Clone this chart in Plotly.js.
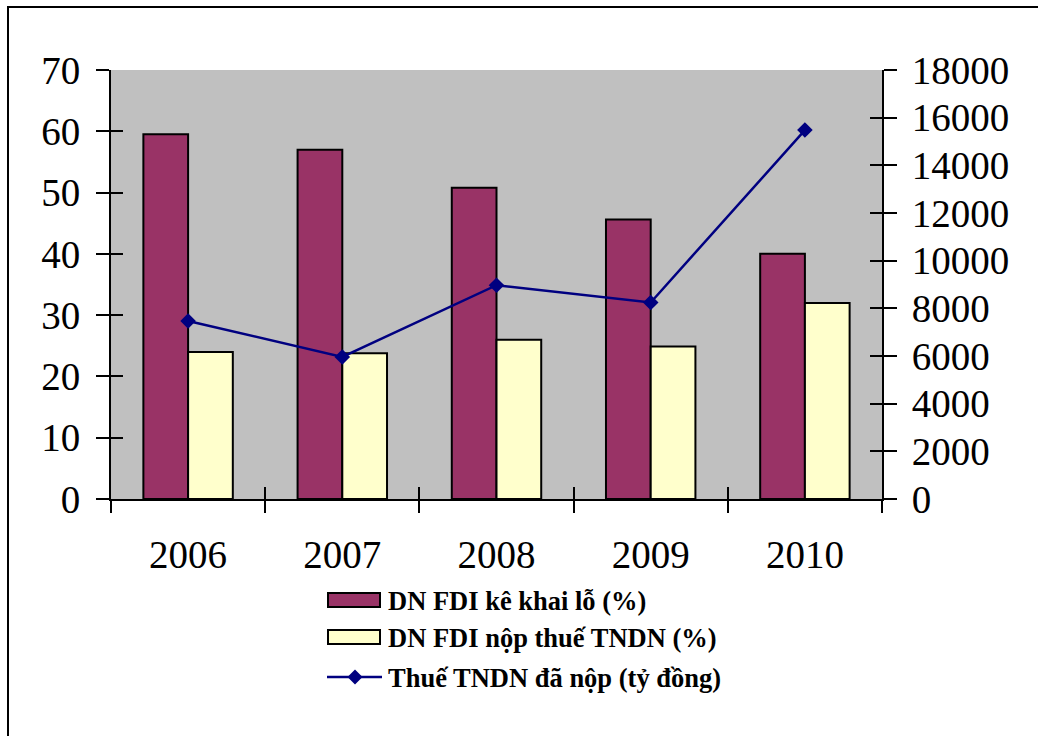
<!DOCTYPE html>
<html>
<head>
<meta charset="utf-8">
<script src="https://cdn.plot.ly/plotly-3.0.1.min.js"></script>
<style>
  html, body { margin: 0; padding: 0; background: #fff; overflow: hidden; }
  #wrap { position: relative; width: 1038px; height: 736px; }
  #chart { position: absolute; left: 0; top: 0; width: 1038px; height: 736px; }
  #chart svg text { font-family: "Liberation Serif", "Times New Roman", Times, serif !important; }
  #frame {
    position: absolute; left: 7px; top: 6px; width: 1100px; height: 800px;
    border-left: 2px solid #000; border-top: 2px solid #000; pointer-events: none;
  }
</style>
</head>
<body>
<div id="wrap">
  <div id="chart"></div>
  <div id="frame"></div>
</div>
<script>
// Years on the category axis
const years = ['2006', '2007', '2008', '2009', '2010'];

// Share of FDI enterprises declaring losses (%)
const lossShare = [59.5, 57, 50.8, 45.6, 40];

// Share of FDI enterprises paying corporate income tax (%)
const taxPayerShare = [24, 23.8, 26, 24.9, 32];

// Corporate income tax paid (billion VND)
const taxPaid = [7470, 5960, 8970, 8245, 15480];

// Series names
const seriesNames = [
  'DN FDI kê khai lỗ (%)',
  'DN FDI nộp thuế TNDN (%)',
  'Thuế TNDN đã nộp (tỷ đồng)'
];

const W = 1038, H = 736;
const M = { l: 111, r: 156, t: 70, b: 237 };
const PW = W - M.l - M.r, PH = H - M.t - M.b;
const px = x => (x - M.l) / PW;
const py = y => (H - M.b - y) / PH;

const serif = 'Liberation Serif';
const PURPLE = '#993366', CREAM = '#FFFFCC', NAVY = '#000080';

const traces = [
  {
    type: 'bar', name: seriesNames[0], x: years, y: lossShare,
    marker: { color: PURPLE, line: { color: '#000', width: 2 } },
    xaxis: 'x', yaxis: 'y', hoverinfo: 'x+y'
  },
  {
    type: 'bar', name: seriesNames[1], x: years, y: taxPayerShare,
    marker: { color: CREAM, line: { color: '#000', width: 2 } },
    xaxis: 'x', yaxis: 'y', hoverinfo: 'x+y'
  },
  {
    type: 'scatter', mode: 'lines+markers', name: seriesNames[2],
    x: years, y: taxPaid, xaxis: 'x', yaxis: 'y2',
    line: { color: NAVY, width: 2.5 },
    marker: { symbol: 'diamond', size: 12, color: NAVY }
  },
  // empty traces that carry the inward halves of the crossing tick marks
  { type: 'scatter', x: [], y: [], xaxis: 'x2', yaxis: 'y3', hoverinfo: 'skip', showlegend: false },
  { type: 'scatter', x: [], y: [], xaxis: 'x2', yaxis: 'y4', hoverinfo: 'skip', showlegend: false }
];

const tickFont = { family: serif, size: 39, color: '#000' };

// Legend drawn by hand: long swatches to the left of bold labels
const legendRows = [
  { y: 600, kind: 'bar', color: PURPLE },
  { y: 637, kind: 'bar', color: CREAM },
  { y: 677, kind: 'line', color: NAVY }
];
const shapes = [];
const annotations = [];
legendRows.forEach((row, i) => {
  if (row.kind === 'bar') {
    shapes.push({
      type: 'rect', xref: 'paper', yref: 'paper',
      x0: px(328), x1: px(380), y0: py(row.y - 7), y1: py(row.y + 7),
      fillcolor: row.color, line: { color: '#000', width: 2 }
    });
  } else {
    shapes.push({
      type: 'line', xref: 'paper', yref: 'paper',
      x0: px(327), x1: px(382), y0: py(row.y), y1: py(row.y),
      line: { color: row.color, width: 2.5 }
    });
    const cx = px(355), cy = py(row.y), dx = 7.5 / PW, dy = 7.5 / PH;
    shapes.push({
      type: 'path', xref: 'paper', yref: 'paper',
      path: `M ${cx - dx} ${cy} L ${cx} ${cy + dy} L ${cx + dx} ${cy} L ${cx} ${cy - dy} Z`,
      fillcolor: row.color, line: { color: row.color, width: 0 }
    });
  }
  annotations.push({
    xref: 'paper', yref: 'paper', x: px(386), y: py(row.y + 1),
    xanchor: 'left', yanchor: 'middle', showarrow: false,
    text: '<b>' + seriesNames[i] + '</b>',
    font: { family: serif, size: 26.5, color: '#000' }
  });
});

const layout = {
  width: W, height: H,
  margin: { l: M.l, r: M.r, t: M.t, b: M.b, pad: 0 },
  paper_bgcolor: 'rgba(0,0,0,0)',
  plot_bgcolor: '#C0C0C0',
  showlegend: false,
  barmode: 'group', bargap: 0.42, bargroupgap: 0,
  font: { family: serif, color: '#000' },
  xaxis: {
    type: 'category', tickson: 'boundaries',
    ticks: 'outside', ticklen: 12, tickwidth: 2, tickcolor: '#000',
    showline: true, linecolor: '#000', linewidth: 2,
    showgrid: false, zeroline: false, tickfont: tickFont,
    ticklabelstandoff: 20, fixedrange: true
  },
  xaxis2: {
    overlaying: 'x', anchor: 'y', type: 'linear', range: [-0.5, 4.5],
    tickvals: [-0.5, 0.5, 1.5, 2.5, 3.5, 4.5],
    ticks: 'inside', ticklen: 12, tickwidth: 2, tickcolor: '#000',
    showticklabels: false, showline: false, showgrid: false, zeroline: false,
    fixedrange: true
  },
  yaxis: {
    range: [0, 70], dtick: 10,
    ticks: 'outside', ticklen: 13, tickwidth: 2, tickcolor: '#000',
    showline: true, linecolor: '#000', linewidth: 2,
    showgrid: false, zeroline: false, tickfont: tickFont,
    ticklabelstandoff: 8, fixedrange: true
  },
  yaxis2: {
    overlaying: 'y', side: 'right', anchor: 'x', range: [0, 18000], dtick: 2000,
    tickformat: 'd',
    ticks: 'outside', ticklen: 13, tickwidth: 2, tickcolor: '#000',
    showline: true, linecolor: '#000', linewidth: 2,
    showgrid: false, zeroline: false, tickfont: tickFont,
    ticklabelstandoff: 7, fixedrange: true
  },
  yaxis3: {
    overlaying: 'y', side: 'left', anchor: 'x2', range: [0, 70], dtick: 10,
    ticks: 'inside', ticklen: 12, tickwidth: 2, tickcolor: '#000',
    showticklabels: false, showline: false, showgrid: false, zeroline: false,
    fixedrange: true
  },
  yaxis4: {
    overlaying: 'y', side: 'right', anchor: 'x2', range: [0, 18000], dtick: 2000,
    ticks: 'inside', ticklen: 12, tickwidth: 2, tickcolor: '#000',
    showticklabels: false, showline: false, showgrid: false, zeroline: false,
    fixedrange: true
  },
  shapes: shapes,
  annotations: annotations
};

Plotly.newPlot('chart', traces, layout, { displayModeBar: false, staticPlot: true });
</script>
</body>
</html>
